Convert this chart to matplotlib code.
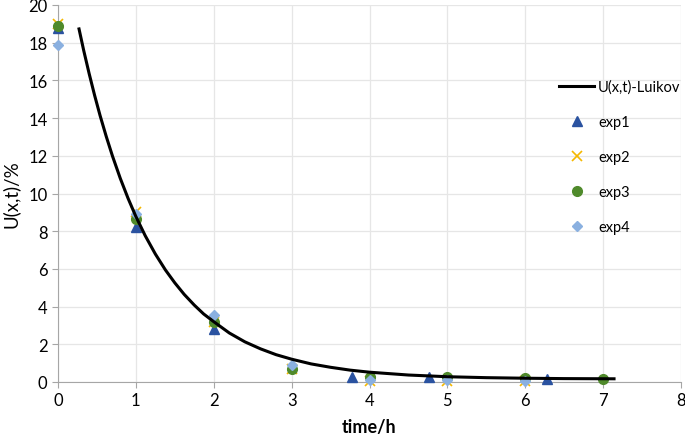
import matplotlib
matplotlib.use("Agg")
import matplotlib.pyplot as plt

# model curve
t_model = [0.27, 0.33, 0.4, 0.47, 0.54, 0.62, 0.7, 0.8, 0.9, 1.0, 1.12, 1.25,
           1.38, 1.5, 1.62, 1.75, 1.87, 2.0, 2.2, 2.4, 2.6, 2.8, 3.0, 3.25,
           3.5, 3.75, 4.0, 4.5, 5.0, 5.5, 6.0, 6.5, 7.14]
u_model = [18.73, 17.59, 16.36, 15.21, 14.14, 13.02, 11.98, 10.8, 9.74, 8.78,
           7.76, 6.79, 5.94, 5.26, 4.65, 4.08, 3.61, 3.2, 2.6, 2.13, 1.76, 1.45,
           1.21, 0.96, 0.78, 0.63, 0.52, 0.37, 0.28, 0.23, 0.2, 0.18, 0.17]

t_exp1 = [0, 1, 2, 3.78, 4.76, 6.28]
u_exp1 = [18.8, 8.2, 2.8, 0.24, 0.25, 0.18]

t_exp2 = [0, 1, 2, 3, 4, 5, 6]
u_exp2 = [19.0, 9.0, 3.2, 0.7, 0.05, 0.05, 0.05]

t_exp3 = [0, 1, 2, 3, 4, 5, 6, 7]
u_exp3 = [18.9, 8.65, 3.2, 0.7, 0.25, 0.25, 0.21, 0.17]

t_exp4 = [0, 1, 2, 3, 4, 5, 6]
u_exp4 = [17.9, 8.9, 3.55, 0.92, 0.08, 0.08, 0.06]

plt.rcParams['font.family'] = ['Lato', 'DejaVu Sans']

fig = plt.figure(figsize=(6.85, 4.35), dpi=100)
ax = fig.add_axes([58 / 685, 52 / 435, 623 / 685, 377 / 435])

ax.plot(t_model, u_model, color='black', lw=2.2, zorder=5, label='U(x,t)-Luikov')
ax.plot(t_exp1, u_exp1, ls='none', marker='^', ms=7, color='#2A52A0', label='exp1', zorder=3, clip_on=False)
ax.plot(t_exp2, u_exp2, ls='none', marker='x', ms=7, mew=1.2, color='#F5B800', label='exp2', zorder=3, clip_on=False)
ax.plot(t_exp3, u_exp3, ls='none', marker='o', ms=7, color='#4F8A2B', label='exp3', zorder=3, clip_on=False)
ax.plot(t_exp4, u_exp4, ls='none', marker='D', ms=5.5, color='#8AB0E0', label='exp4', zorder=4, clip_on=False)

ax.set_xlim(0, 8)
ax.set_ylim(0, 20)
ax.set_xticks(range(0, 9))
ax.set_yticks(range(0, 21, 2))
ax.grid(True, color='#E6E6E6', lw=0.9)
ax.set_axisbelow(True)
for s in ['top', 'right']:
  ax.spines[s].set_visible(False)
for s in ['left', 'bottom']:
  ax.spines[s].set_color('#A6A6A6')
ax.tick_params(colors='#A6A6A6', length=4, labelcolor='black', labelsize=12)

ax.set_xlabel('time/h', fontsize=13, fontweight='bold', labelpad=7)
ax.set_ylabel('U(x,t)/%', fontsize=13.5, labelpad=6)

ax.legend(loc='upper left', bbox_to_anchor=(552 / 685, 1 - 73 / 435),
          bbox_transform=fig.transFigure, frameon=False, fontsize=10.5,
          handlelength=2.4, handletextpad=0.25, labelspacing=1.45, borderpad=0)

fig.savefig('out.png', dpi=100)
